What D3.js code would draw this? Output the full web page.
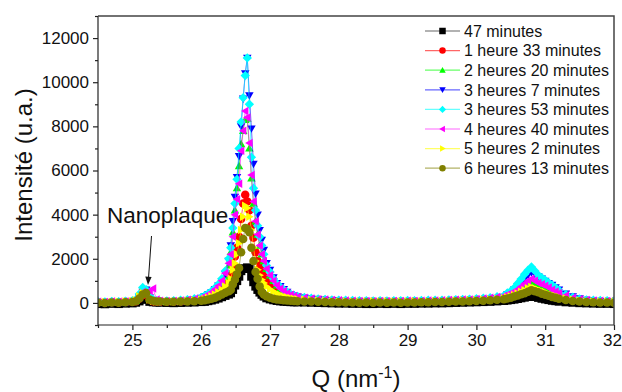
<!DOCTYPE html>
<html><head><meta charset="utf-8">
<script src="https://cdn.jsdelivr.net/npm/d3@7"></script>
<style>body{margin:0;background:#fff}svg{display:block}text{font-family:Arial,"Liberation Sans",sans-serif}</style>
</head><body>
<svg id="c" width="622" height="392"></svg>
<script>
// ---- data ----
const Q = [24.5,24.6,24.7,24.8,24.9,25.0,
 25.05,25.1,25.15,25.2,25.25,25.3,25.35,25.4,
 25.5,25.6,25.7,25.8,25.9,26.0,
 26.05,26.1,26.15,26.2,26.25,26.3,26.35,26.4,
 26.43,26.46,26.49,26.52,26.55,26.58,26.61,26.64,26.67,26.70,26.73,26.76,26.79,26.82,26.85,26.88,26.91,
 26.95,27.0,27.05,27.1,27.15,27.2,27.25,27.3,27.35,27.4,
 27.5,27.6,27.7,27.8,27.9,28.0,28.1,28.2,28.3,28.4,28.5,28.6,28.7,28.8,28.9,29.0,29.1,29.2,29.3,29.4,29.5,29.6,29.7,29.8,29.9,30.0,30.1,30.2,30.3,30.4,
 30.45,30.5,30.55,30.6,30.65,30.7,30.75,30.8,30.85,30.9,30.95,31.0,31.05,31.1,31.15,31.2,
 31.3,31.4,31.5,31.6,31.7,31.8,31.9,32.0];

const black = [-40,-50,-30,-40,-20,-10,
 20,80,150,250,60,40,30,20,
 10,0,10,20,30,50,
 60,90,120,160,210,270,330,390,
 450,600,800,1000,1200,1450,1550,1550,1600,1550,1200,950,750,600,480,380,300,
 220,170,130,100,80,65,55,45,40,35,
 30,20,10,0,-10,-20,-20,-30,-30,-40,-40,-30,-40,-30,-40,-30,-30,-20,-20,-10,-10,0,10,20,30,40,50,60,80,100,
 120,140,160,190,220,250,280,310,280,240,200,170,140,110,90,70,
 40,20,0,-10,-20,-30,-30,-40];
const red = [30,20,40,30,50,60,
 80,200,350,450,150,80,60,50,
 60,70,80,100,130,170,
 200,260,330,420,540,700,900,1100,
 1300,1700,2100,2500,3000,3800,4500,4900,4600,4200,3500,2950,2300,1900,1600,1400,1200,
 1000,850,700,580,480,400,340,290,250,220,
 200,170,140,120,100,90,80,70,70,60,60,70,60,70,60,70,80,70,80,90,90,100,110,120,130,140,160,180,210,240,
 290,340,400,470,560,640,720,780,730,660,610,560,500,440,380,330,
 250,180,130,100,80,70,60,60];
const green = [40,30,50,40,60,80,
 100,250,450,550,200,100,70,60,
 70,80,100,130,170,220,
 280,350,450,560,720,900,1200,1700,
 2300,3200,4200,5200,6200,7200,7800,8300,8350,7000,5650,4500,3700,3100,2600,2200,1900,
 1550,1250,1000,800,650,530,430,360,300,260,
 230,190,160,140,120,110,100,90,90,80,80,90,80,90,80,90,100,90,100,110,110,120,130,140,150,170,190,210,250,300,
 350,410,490,580,690,800,900,980,920,830,780,720,640,560,480,410,
 310,220,160,120,100,90,80,80];
const blue = [0,-20,10,-10,20,40,
 100,250,500,600,250,120,80,60,
 50,60,80,110,160,230,
 300,380,480,620,780,950,1300,1900,
 2600,3700,4800,5700,6650,8000,9250,10400,11100,9400,7900,6300,4950,4000,3300,2850,2400,
 1800,1500,1150,900,760,620,500,400,340,290,
 240,190,160,140,120,100,80,70,60,50,40,50,30,40,40,50,30,50,60,50,70,80,90,100,110,130,150,180,220,270,
 400,480,600,760,920,1100,1260,1380,1300,1200,1100,1000,900,820,700,600,
 420,290,200,140,100,80,60,50];
const cyan = [60,50,70,60,80,100,
 150,400,700,600,300,150,100,80,
 90,100,120,150,190,250,
 330,420,530,680,850,1100,1450,2000,
 2500,3400,4500,5600,7000,8200,9300,10300,11100,9000,6600,5200,4200,3500,3000,2600,2200,
 1700,1400,1100,880,730,600,490,400,340,290,
 250,210,180,160,140,130,120,110,100,100,90,100,90,100,100,110,100,110,120,120,130,140,150,160,170,190,210,240,280,330,
 450,540,680,880,1080,1300,1480,1630,1450,1260,1140,1030,920,800,690,580,
 380,260,180,140,120,110,100,90];
const magenta = [50,40,60,50,70,90,
 120,300,500,350,550,650,150,100,
 80,90,110,140,180,240,
 300,380,480,620,780,1000,1350,1800,
 2200,3000,4000,4700,5400,6900,7800,8700,8400,7250,5800,4600,3700,3100,2600,2200,1900,
 1550,1250,1000,800,650,540,440,370,310,270,
 240,200,170,150,130,120,110,100,90,90,80,90,80,90,90,100,90,100,110,110,120,130,140,150,160,180,200,230,270,320,
 380,440,520,620,750,880,1000,1100,1000,900,850,780,700,600,520,450,
 340,240,170,130,110,100,90,90];
const yellow = [50,40,30,50,60,80,
 120,300,450,400,150,100,70,60,
 60,70,80,100,120,150,
 180,230,300,380,480,600,750,900,
 1100,1500,1800,2200,2700,3300,3900,4400,4300,3900,3300,2500,1900,1500,1250,1050,900,
 750,620,520,430,360,300,260,220,190,170,
 150,130,110,90,80,70,60,60,50,50,60,50,60,50,60,60,70,60,70,80,80,90,100,110,120,130,140,160,180,210,
 260,300,360,430,510,580,660,720,670,600,540,480,420,360,310,270,
 200,150,110,80,60,50,50,40];
const olive = [10,0,20,10,30,40,
 80,200,380,450,150,100,70,60,
 50,50,60,70,80,100,
 120,150,190,240,300,380,460,530,
 600,850,1050,1300,1580,2300,2900,3400,3350,3200,2500,1900,1400,1100,750,500,380,
 300,230,190,160,140,120,105,95,85,80,
 70,60,50,40,30,30,20,20,10,20,10,20,10,20,10,20,20,30,30,40,40,50,60,70,80,90,100,120,140,170,
 200,240,290,340,390,440,510,570,530,480,420,370,320,270,230,190,
 130,90,60,40,30,20,20,10];

const seriesNames = ["47 minutes","1 heure 33 minutes","2 heures 20 minutes","3 heures 7 minutes","3 heures 53 minutes","4 heures 40 minutes","5 heures 2 minutes","6 heures 13 minutes"];
const seriesValues = [black, red, green, blue, cyan, magenta, yellow, olive];
const seriesColors = ["#000000","#ff0000","#00ff00","#0000ff","#00ffff","#ff00ff","#ffff00","#808000"];
const seriesShapes = ["square","circle","triUp","triDown","diamond","triLeft","triRight","circle"];
const xTicks = [25,26,27,28,29,30,31,32];
const xMinor = [24.5,25.5,26.5,27.5,28.5,29.5,30.5,31.5];
const yTicks = [0,2000,4000,6000,8000,10000,12000];
const yMinor = [-1000,1000,3000,5000,7000,9000,11000,13000];

// ---- layout ----
const L = 98, T = 16, R = 614, B = 325;
const svg = d3.select("#c");
const x = d3.scaleLinear().domain([24.5, 32]).range([L, R]);
const y = d3.scaleLinear().domain([-1000, 13000]).range([B, T]);

function markerPath(shape, s) {
  const h = s / 2;
  switch (shape) {
    case "square": return `M${-h},${-h}H${h}V${h}H${-h}Z`;
    case "circle": return `M${h},0A${h},${h} 0 1,1 ${-h},0A${h},${h} 0 1,1 ${h},0Z`;
    case "triUp": return `M0,${-h}L${h},${h*0.75}L${-h},${h*0.75}Z`;
    case "triDown": return `M0,${h}L${h},${-h*0.75}L${-h},${-h*0.75}Z`;
    case "triLeft": return `M${-h},0L${h*0.75},${-h}L${h*0.75},${h}Z`;
    case "triRight": return `M${h},0L${-h*0.75},${-h}L${-h*0.75},${h}Z`;
    case "diamond": return `M0,${-h*1.1}L${h*1.1},0L0,${h*1.1}L${-h*1.1},0Z`;
  }
}

svg.append("defs").append("clipPath").attr("id", "clip")
  .append("rect").attr("x", L).attr("y", T).attr("width", R - L).attr("height", B - T);

const plot = svg.append("g").attr("clip-path", "url(#clip)");
const line = d3.line().x(d => x(d[0])).y(d => y(d[1]));

seriesValues.forEach((vals, i) => {
  const pts = Q.map((q, j) => [q, vals[j]]);
  const g = plot.append("g");
  g.append("path").attr("d", line(pts)).attr("fill", "none")
    .attr("stroke", seriesColors[i]).attr("stroke-opacity", 0.6).attr("stroke-width", 1);
  g.selectAll("path.m").data(pts).enter().append("path").attr("class", "m")
    .attr("d", markerPath(seriesShapes[i], 8.5))
    .attr("transform", d => `translate(${x(d[0])},${y(d[1])})`)
    .attr("fill", seriesColors[i]);
});

// ---- axes ----
const axisColor = "#222";
const gx = svg.append("g").attr("transform", `translate(0,${B})`)
  .call(d3.axisBottom(x).tickValues(xTicks).tickSize(5).tickPadding(4).tickFormat(d3.format("d")));
svg.append("g").attr("transform", `translate(0,${B})`)
  .call(d3.axisBottom(x).tickValues(xMinor).tickSize(3).tickFormat(""))
  .select(".domain").remove();
const gy = svg.append("g").attr("transform", `translate(${L},0)`)
  .call(d3.axisLeft(y).tickValues(yTicks).tickSize(5).tickPadding(4).tickFormat(d3.format("d")));
svg.append("g").attr("transform", `translate(${L},0)`)
  .call(d3.axisLeft(y).tickValues(yMinor).tickSize(3).tickFormat(""))
  .select(".domain").remove();
svg.selectAll(".tick text").attr("font-size", 17).attr("font-family", "Arial, 'Liberation Sans', sans-serif").attr("fill", "#111");
// keep the last x label inside the window
gx.selectAll(".tick text").filter(d => d === 32).attr("text-anchor", "end").attr("x", 7.5);
svg.selectAll(".domain, .tick line").attr("stroke", axisColor).attr("stroke-width", 1.2);
gx.select(".domain").attr("d", `M${L},0H${R}`);
gy.select(".domain").attr("d", `M0,${T}V${B}`);
// top & right frame
svg.append("path").attr("d", `M${L},${T}H${R}V${B}`).attr("fill", "none").attr("stroke", "#444").attr("stroke-width", 1.5);

// axis titles
svg.append("text").attr("transform", `translate(32,165) rotate(-90)`).attr("text-anchor", "middle")
  .attr("font-size", 24).attr("fill", "#111").text("Intensité (u.a.)");
const xt = svg.append("text").attr("x", 356).attr("y", 387).attr("text-anchor", "middle")
  .attr("font-size", 24).attr("fill", "#111");
xt.append("tspan").text("Q (nm");
xt.append("tspan").attr("dy", -9).attr("font-size", 16).text("-1");
xt.append("tspan").attr("dy", 9).text(")");

// annotation
svg.append("text").attr("x", 107).attr("y", 222.5).attr("font-size", 22.5).attr("fill", "#111").text("Nanoplaque");
svg.append("line").attr("x1", 151.5).attr("y1", 236).attr("x2", 148.6).attr("y2", 277)
  .attr("stroke", "#111").attr("stroke-width", 1);
svg.append("path").attr("d", "M148,285 L145.3,276.5 L151.6,277 Z").attr("fill", "#111");

// legend
const leg = svg.append("g");
seriesNames.forEach((name, i) => {
  const cy = 31 + i * 19.6;
  leg.append("line").attr("x1", 425).attr("x2", 460).attr("y1", cy).attr("y2", cy)
    .attr("stroke", seriesColors[i]).attr("stroke-opacity", 0.6).attr("stroke-width", 1.2);
  leg.append("path").attr("d", markerPath(seriesShapes[i], 6.5))
    .attr("transform", `translate(442.5,${cy})`).attr("fill", seriesColors[i]);
  leg.append("text").attr("x", 464).attr("y", cy + 5.8).attr("font-size", 16).attr("fill", "#111").text(name);
});
</script>
</body></html>
